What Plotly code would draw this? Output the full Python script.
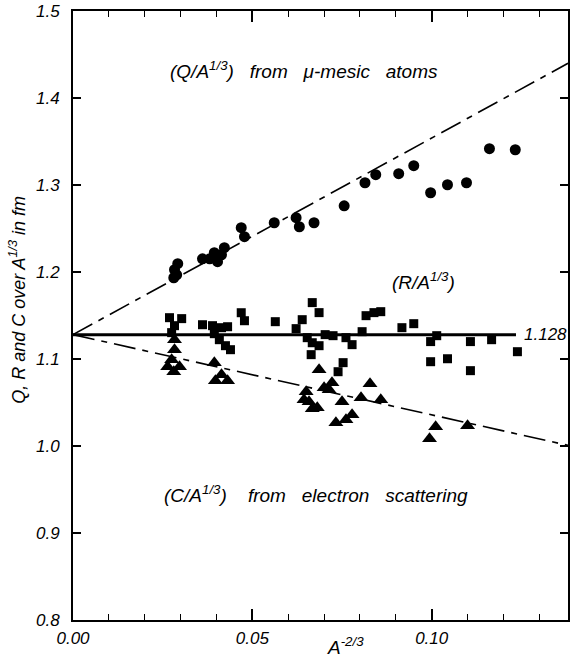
import plotly.graph_objects as go

# ---- data ----
q_x = [0.0292, 0.0283, 0.0289, 0.0281, 0.0361, 0.0381, 0.0394, 0.0403, 0.0414, 0.0422,
       0.0469, 0.0478, 0.0561, 0.0622, 0.0631, 0.0672, 0.0756, 0.0814, 0.0844, 0.0908,
       0.0950, 0.0997, 0.1044, 0.1097, 0.1161, 0.1233]
q_y = [1.2095, 1.2026, 1.1968, 1.1934, 1.2152, 1.2152, 1.2222, 1.2118, 1.2198, 1.2280,
       1.2510, 1.2406, 1.2566, 1.2624, 1.2520, 1.2566, 1.2761, 1.3026, 1.3118, 1.3130,
       1.3222, 1.2911, 1.3003, 1.3026, 1.3417, 1.3405]

r_x = [0.0269, 0.0303, 0.0283, 0.0275, 0.0361, 0.0389, 0.0414, 0.0431, 0.0394, 0.0408,
       0.0425, 0.0439, 0.0469, 0.0478, 0.0564, 0.0622, 0.0639, 0.0667, 0.0686, 0.0653,
       0.0667, 0.0686, 0.0703, 0.0725, 0.0761, 0.0778, 0.0664, 0.0753, 0.0739, 0.0806,
       0.0817, 0.0839, 0.0858, 0.0917, 0.0950, 0.0997, 0.1014, 0.0997, 0.1044, 0.1108,
       0.1108, 0.1167, 0.1239]
r_y = [1.1475, 1.1464, 1.1383, 1.1303, 1.1394, 1.1383, 1.1360, 1.1371, 1.1291, 1.1222,
       1.1153, 1.1107, 1.1532, 1.1440, 1.1429, 1.1349, 1.1452, 1.1648, 1.1533, 1.1245,
       1.1187, 1.1153, 1.1280, 1.1268, 1.1245, 1.1165, 1.1050, 1.0958, 1.0854, 1.1314,
       1.1498, 1.1533, 1.1544, 1.1360, 1.1406, 1.1200, 1.1268, 1.0969, 1.1003, 1.1200,
       1.0866, 1.1222, 1.1084]

c_x = [0.0283, 0.0283, 0.0275, 0.0264, 0.0297, 0.0281, 0.0394, 0.0414, 0.0397, 0.0431,
       0.0686, 0.0722, 0.0700, 0.0714, 0.0828, 0.0803, 0.0858, 0.0750, 0.0650, 0.0644,
       0.0658, 0.0667, 0.0681, 0.0778, 0.0761, 0.0733, 0.1011, 0.0994, 0.1100]
c_y = [1.1222, 1.1107, 1.0992, 1.0912, 1.0912, 1.0854, 1.0958, 1.0820, 1.0750, 1.0750,
       1.0877, 1.0727, 1.0670, 1.0647, 1.0716, 1.0555, 1.0532, 1.0509, 1.0624, 1.0532,
       1.0509, 1.0429, 1.0440, 1.0360, 1.0302, 1.0268, 1.0222, 1.0084, 1.0233]

r0 = 1.128          # common intercept
q_slope = 2.26      # dash-dot line through mu-mesic points
c_slope = -0.922    # dash-dot line through electron-scattering points
x_max = 0.138
r_end = 0.1235

x_ticks = [0.00, 0.05, 0.10]
x_ticklabels = ["0.00", "0.05", "0.10"]
y_ticks = [0.8, 0.9, 1.0, 1.1, 1.2, 1.3, 1.4, 1.5]
y_ticklabels = ["0.8", "0.9", "1.0", "1.1", "1.2", "1.3", "1.4", "1.5"]

FONT = "Liberation Sans"

fig = go.Figure()

dashdot = "22px,7px,6px,7px"
fig.add_trace(go.Scatter(x=[0, x_max], y=[r0, r0 + q_slope * x_max], mode="lines",
                         line=dict(color="black", width=1.6, dash=dashdot), hoverinfo="skip"))
fig.add_trace(go.Scatter(x=[0, x_max], y=[r0, r0 + c_slope * x_max], mode="lines",
                         line=dict(color="black", width=1.6, dash=dashdot), hoverinfo="skip"))
fig.add_trace(go.Scatter(x=[0, r_end], y=[r0, r0], mode="lines",
                         line=dict(color="black", width=3), hoverinfo="skip"))

fig.add_trace(go.Scatter(x=q_x, y=q_y, mode="markers",
                         marker=dict(symbol="circle", size=11, color="black")))
fig.add_trace(go.Scatter(x=r_x, y=r_y, mode="markers",
                         marker=dict(symbol="square", size=9, color="black")))
fig.add_trace(go.Scatter(x=c_x, y=c_y, mode="markers",
                         marker=dict(symbol="triangle-up", size=13, color="black")))

tfont = dict(family=FONT, size=17, color="black", style="italic")

fig.update_layout(
    width=571, height=659,
    margin=dict(l=73, r=1, t=11, b=39),
    paper_bgcolor="white", plot_bgcolor="white",
    showlegend=False,
    font=dict(family=FONT, color="black"),
    xaxis=dict(range=[0, x_max], showgrid=False, zeroline=False,
               showline=True, linecolor="black", linewidth=2, mirror="ticks",
               ticks="inside", ticklen=11, tickwidth=1.5, tickcolor="black",
               tickvals=x_ticks, ticktext=x_ticklabels, tickfont=tfont,
               ticklabelstandoff=2,
               minor=dict(dtick=0.01, ticks="inside", ticklen=6, tickwidth=1.2, tickcolor="black")),
    yaxis=dict(range=[0.8, 1.5], showgrid=False, zeroline=False,
               showline=True, linecolor="black", linewidth=2, mirror="ticks",
               ticks="inside", ticklen=8, tickwidth=1.5, tickcolor="black",
               tickvals=y_ticks, ticktext=y_ticklabels, tickfont=tfont,
               ticklabelstandoff=8),
)

afont = dict(family=FONT, size=19, color="black", style="italic")
sp = "&nbsp;&nbsp;&nbsp;"
fig.add_annotation(x=0.0644, y=1.432, xref="x", yref="y", showarrow=False,
                   text="(Q/A<sup>1/3</sup>)" + sp + "from" + sp + "μ-mesic" + sp + "atoms",
                   font=afont, xanchor="center", yanchor="middle")
fig.add_annotation(x=0.0978, y=1.19, xref="x", yref="y", showarrow=False,
                   text="(R/A<sup>1/3</sup>)", font=afont, xanchor="center", yanchor="middle")
fig.add_annotation(x=0.1253, y=r0, xref="x", yref="y", showarrow=False,
                   text="1.128", font=dict(family=FONT, size=17, color="black", style="italic"),
                   xanchor="left", yanchor="middle")
fig.add_annotation(x=0.0678, y=0.945, xref="x", yref="y", showarrow=False,
                   text="(C/A<sup>1/3</sup>)" + sp + "&nbsp;from" + sp + "electron" + sp + "scattering",
                   font=afont, xanchor="center", yanchor="middle")
fig.add_annotation(x=0.076, y=-0.042, xref="x", yref="paper", showarrow=False,
                   text="A<sup>-2/3</sup>", font=afont, xanchor="center", yanchor="middle")
fig.add_annotation(x=-0.112, y=0.525, xref="paper", yref="paper", showarrow=False,
                   text="Q, R and C over A<sup>1/3</sup> in fm", textangle=-90,
                   font=dict(family=FONT, size=18, color="black", style="italic"),
                   xanchor="center", yanchor="middle")

fig.write_html("out.html")
